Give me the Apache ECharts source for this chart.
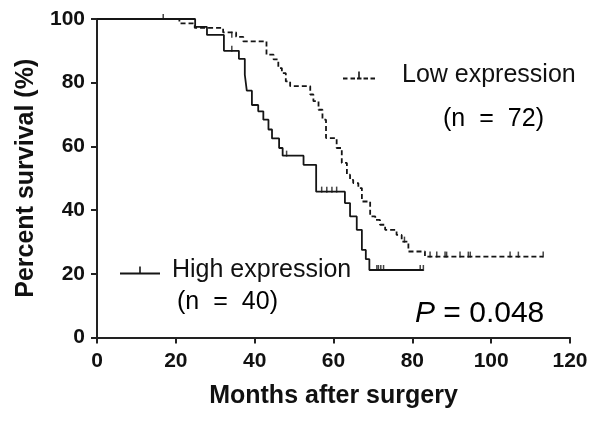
<!DOCTYPE html>
<html>
<head>
<meta charset="utf-8">
<script src="https://cdn.jsdelivr.net/npm/echarts@6/dist/echarts.min.js"></script>
<style>html,body{margin:0;padding:0;background:#fff;}#c{width:600px;height:421px;}</style>
</head>
<body>
<div id="c"></div>
<script>
// Kaplan-Meier step data: [months, percent survival]
var lowExpression = [
  [0,100],[20.9,98.6],[24.8,97.2],[32,95.8],[35.3,94.4],[37.1,93],[43,88.8],[44.8,87.3],
  [46,84.6],[46.9,83],[47.9,80.4],[49,78.9],[54.1,76.3],[54.9,74.2],[56.2,71.5],[57.2,68.4],
  [58.1,62.6],[60.8,59.5],[62.1,54.8],[63.4,51.1],[64.2,49.5],[65,48.5],[66.3,46.9],[67.2,42.7],
  [69.3,38],[70.6,36.9],[71.8,35.4],[73.1,33.8],[76,32.2],[77.3,30.1],[79,27],[83.2,25.4],[113.2,25.4]
];
var highExpression = [
  [0,100],[24.9,97.5],[27.9,95],[32.2,90],[36,87.5],[37.5,82.5],[38,77.5],[39.3,73],[40.9,71],
  [42.2,68.4],[43.5,65.3],[44.4,62.5],[46.2,59.5],[47.1,57.1],[52.4,54.2],[55.6,45.8],
  [62.9,42.2],[64.2,38],[65.9,33.8],[67.2,27.5],[68.2,24.6],[69.1,21.2],[82.8,21.2]
];
var lowCensored = [
  [16.8,100],[34.2,94.4],[78,30.1],[84.5,25.4],[86.2,25.4],[88.3,25.4],[88.7,25.4],[92.1,25.4],
  [94.2,25.4],[94.7,25.4],[104.8,25.4],[106.9,25.4],[113.2,25.4]
];
var highCensored = [
  [34.2,90],[48.1,57.1],[57,45.8],[58.3,45.8],[59.6,45.8],[60.8,45.8],
  [71,21.2],[71.4,21.2],[72,21.2],[72.7,21.2],[82,21.2],[82.8,21.2]
];
var xTicks = {min:0, max:120, interval:20};
var yTicks = {min:0, max:100, interval:20};
var seriesNames = ['Low expression','High expression'];
var nLabels = [['(n','=','72)'],['(n','=','40)']];
var pLabel = {p:'P', rest:' = 0.048'};
var axisTitles = {x:'Months after surgery', y:'Percent survival (%)'};

var FONT = '"Liberation Sans", Arial, Helvetica, sans-serif';
var INK = '#111';
var LINE = '#151515';

var lowIcon = 'path://M0,6h4.5v1.8h-4.5z M7.5,6h4.5v1.8h-4.5z M14,6h4.5v1.8h-4.5z M15.2,0h1.6v7.8h-1.6z M20.5,6h4.5v1.8h-4.5z M27.5,6h4.5v1.8h-4.5z';
var highIcon = 'path://M0,6h40v1.8h-40z M19.2,0h1.6v7.8h-1.6z';

function nText(parts){
  return '{t|'+parts[0]+'}{s| }{t|'+parts[1]+'}{s| }{t|'+parts[2]+'}';
}
var nRich = {t:{fontFamily:FONT, fontSize:25, color:INK}, s:{fontFamily:FONT, fontSize:25, width:14, color:INK}};

var chart = echarts.init(document.getElementById('c'), null, {renderer:'canvas'});
chart.setOption({
  animation:false,
  backgroundColor:'#fff',
  grid:{left:97, top:19, width:473, height:318.5, containLabel:false},
  xAxis:{
    type:'value', min:xTicks.min, max:xTicks.max, interval:xTicks.interval,
    name:axisTitles.x, nameLocation:'middle', nameGap:46,
    nameTextStyle:{fontFamily:FONT, fontWeight:'bold', fontSize:25, color:INK},
    axisLine:{lineStyle:{color:'#222', width:2}},
    axisTick:{show:true, inside:false, length:6, lineStyle:{color:'#222', width:2}},
    axisLabel:{fontFamily:FONT, fontWeight:'bold', fontSize:21, color:INK, margin:13},
    splitLine:{show:false}
  },
  yAxis:{
    type:'value', min:yTicks.min, max:yTicks.max, interval:yTicks.interval,
    name:axisTitles.y, nameLocation:'middle', nameGap:57,
    nameTextStyle:{fontFamily:FONT, fontWeight:'bold', fontSize:25, color:INK},
    axisLine:{show:true, lineStyle:{color:'#222', width:2}},
    axisTick:{show:true, inside:false, length:6, lineStyle:{color:'#222', width:2}},
    axisLabel:{fontFamily:FONT, fontWeight:'bold', fontSize:21, color:INK, margin:12},
    splitLine:{show:false}
  },
  legend:[
    {data:[{name:seriesNames[0], icon:lowIcon}], left:343, top:63, padding:0, itemWidth:32, itemHeight:7.8,
     textStyle:{fontFamily:FONT, fontSize:25, color:INK, padding:[0,0,0,22]}},
    {data:[{name:seriesNames[1], icon:highIcon}], left:120, top:258, padding:0, itemWidth:40, itemHeight:7.8,
     textStyle:{fontFamily:FONT, fontSize:25, color:INK, padding:[0,0,0,7]}}
  ],
  graphic:[
    {type:'text', left:443, top:107, style:{text:nText(nLabels[0]), rich:nRich}},
    {type:'text', left:177, top:290, style:{text:nText(nLabels[1]), rich:nRich}},
    {type:'text', left:415, top:299, style:{
      text:'{i|'+pLabel.p+'}{n|'+pLabel.rest+'}',
      rich:{i:{fontFamily:FONT, fontStyle:'italic', fontSize:30, color:INK},
            n:{fontFamily:FONT, fontSize:30, color:INK}}
    }}
  ],
  series:[
    {name:seriesNames[0], type:'line', step:'end', data:lowExpression, color:LINE,
     symbol:'none', lineStyle:{color:LINE, width:1.8, type:[5,3]}},
    {name:seriesNames[1], type:'line', step:'end', data:highExpression, color:LINE,
     symbol:'none', lineStyle:{color:LINE, width:1.8, type:'solid'}},
    {name:'lowCens', type:'scatter', data:lowCensored, symbol:'rect', symbolSize:[1.5,6],
     symbolOffset:[0,-2], itemStyle:{color:LINE}},
    {name:'highCens', type:'scatter', data:highCensored, symbol:'rect', symbolSize:[1.5,6],
     symbolOffset:[0,-2], itemStyle:{color:LINE}}
  ]
});
</script>
</body>
</html>
